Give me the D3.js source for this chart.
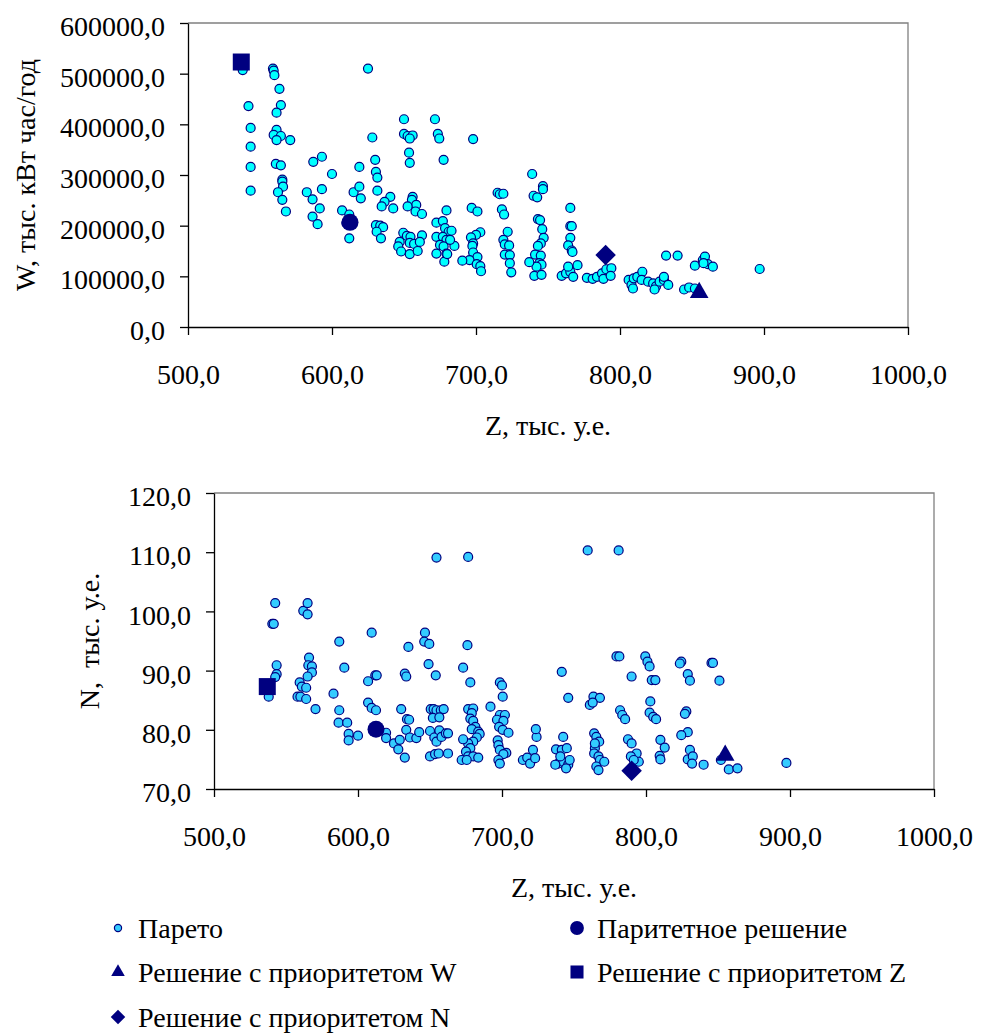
<!DOCTYPE html>
<html>
<head>
<meta charset="utf-8">
<script src="https://cdn.jsdelivr.net/npm/d3@7"></script>
<style>
  body { margin: 0; background: #fff; }
  svg { display: block; }
  text { font-family: "Liberation Serif", "Times New Roman", serif; fill: #000; }
</style>
</head>
<body>
<script>
// Z - затраты, W - потери энергии, N - третий критерий
var zTicks = [500, 600, 700, 800, 900, 1000];
var wTicks = [0, 100000, 200000, 300000, 400000, 500000, 600000];
var nTicks = [70, 80, 90, 100, 110, 120];

// Парето (Z, W)
var paretoW = [
  [538, 507000], [559, 510000], [559.5, 506000], [560, 497000], [625, 510000], [563.5, 470000],
  [542, 436000], [564.5, 438000], [561.5, 423000], [543.5, 393000], [561.5, 389000], [559.5, 379000],
  [564.5, 377000], [561.5, 369000], [571, 369000], [543.5, 356000], [650, 410000], [671.5, 410000],
  [650, 381000], [652.5, 377000], [656, 378000], [654, 372000], [673.5, 381000], [674.5, 372000],
  [628, 374000], [653.5, 344000], [654, 324000], [677.5, 330000], [543.5, 316000], [561, 322000],
  [564.5, 319000], [587, 326000], [593, 336000], [630, 330000], [619, 316000], [600, 302000],
  [630.5, 306000], [631.5, 295000], [565.5, 291000], [565.5, 287000], [566, 277000], [562.5, 266000],
  [565.5, 251000], [543.5, 269000], [582.5, 266000], [586.5, 252000], [593, 272000], [591.5, 234000],
  [586.5, 218000], [590, 203000], [568, 228000], [615, 266000], [619, 277000], [620, 254000],
  [631.5, 269000], [640.5, 257000], [636.5, 247000], [634.5, 238000], [642.5, 234000], [656, 257000],
  [655.5, 251000], [658.5, 241000], [652.5, 238000], [658, 228000], [662.5, 223000], [607, 230000],
  [612, 222000], [610, 205000], [612, 175000], [630.5, 201000], [633.5, 200000], [635.5, 197000],
  [631, 188000], [634, 175000], [649.5, 186000], [652, 180000], [654.5, 178000], [662.5, 181000],
  [647, 168000], [654, 166000], [657, 164000], [661, 168000], [646, 159000], [648, 149000],
  [654, 144000], [659.5, 150000], [679.5, 230000], [672.5, 206000], [677, 209000], [678.5, 195000],
  [681, 188000], [672.5, 178000], [677, 178000], [679.5, 172000], [675, 162000], [677.5, 159000],
  [672.5, 145000], [679.5, 145000], [678, 129000], [683, 190000], [685, 160000], [680, 144000],
  [682, 172000], [698, 371000], [739, 302000], [746.5, 278000], [746.5, 272000], [740, 259000],
  [742.5, 256000], [715, 265000], [716.5, 262000], [719, 263000], [718, 232000], [719.5, 222000],
  [697, 235000], [701, 228000], [765.5, 235000], [765.5, 199000], [766.5, 199000], [765.5, 176000],
  [764, 161000], [766.5, 151000], [767, 148000], [743, 213000], [744.5, 211000], [746, 193000],
  [747, 176000], [745, 165000], [743, 160000], [741, 143000], [745, 141000], [744, 126000],
  [745.5, 123000], [742, 119000], [740.5, 101000], [745.5, 103000], [737, 128000], [722, 188000],
  [719, 172000], [720, 163000], [723, 161000], [720, 143000], [723.5, 142000], [723.5, 126000],
  [724.5, 108000], [703, 187000], [700, 182000], [696.5, 177000], [698, 165000], [697.5, 160000],
  [698, 147000], [701, 138000], [695.5, 132000], [700.5, 124000], [703, 120000], [703.5, 110000],
  [690.5, 131000], [777, 97000], [781, 95000], [784, 99000], [787.5, 106000], [788.5, 95000],
  [790.5, 114000], [794, 116000], [793.5, 101000], [806, 93000], [808, 83000], [809.5, 96000],
  [812, 99000], [815.5, 109000], [815, 93000], [819.5, 89500], [809, 76000], [759.5, 101000],
  [762.5, 106000], [765.5, 109000], [767.5, 99000], [770.5, 122000], [764, 119000], [823, 86000],
  [825, 80000], [827.5, 89500], [830.5, 93000], [830.5, 99000], [833.5, 83000], [824, 74000],
  [832, 141000], [840, 141000], [844.5, 74000], [848, 78000], [852, 76000], [852, 121000],
  [857.5, 132000], [859, 139000], [861, 124000], [864.5, 119000], [858, 126000], [897, 114500]
];

// Парето (Z, N)
var paretoN = [
  [538, 85.6], [542.5, 101.4], [540.5, 97.9], [541.5, 97.9], [543.5, 90.9], [543.5, 89.4], [542.5, 88.9],
  [562, 100.1], [565, 101.4], [565, 99.5], [566, 92.2], [565.5, 90.9], [568, 90.7], [568, 89.7],
  [565, 89.0], [559.5, 88.0], [561, 87.3], [564, 87.1], [558, 85.6], [560, 85.6], [564, 85.2],
  [570.5, 83.5], [587, 94.9], [590.5, 90.5], [583, 86.1], [587, 83.3], [586.5, 81.2], [592.5, 81.2],
  [593.5, 79.3], [593.5, 78.2], [600, 79.0], [609.5, 96.4], [607, 88.2], [612, 89.2], [613, 89.2],
  [607, 84.6], [609.5, 83.7], [612.5, 83.3], [619.5, 79.5], [619.5, 78.6], [625, 77.7], [629, 78.3],
  [628, 76.7], [632.5, 75.3], [630, 83.5], [635, 94.0], [632.5, 89.5], [633.5, 89.0], [634, 81.8],
  [635.5, 81.7], [633.5, 80.0], [636, 78.7], [640.5, 78.6], [642.5, 79.6], [646.5, 96.4], [646, 94.9],
  [649.5, 94.5], [649, 91.1], [654, 89.2], [650.5, 83.5], [652.5, 83.5], [654.5, 83.3], [657.5, 83.3],
  [659.5, 83.5], [652, 82.0], [656.5, 82.1], [650, 79.8], [653, 78.7], [656.5, 79.9], [654.5, 78.0],
  [658, 78.8], [661, 79.4], [662.5, 79.4], [650, 75.5], [653.5, 75.9], [656, 76.0], [662.5, 76.0],
  [654.5, 109.1], [676.5, 109.2], [759.5, 110.3], [781, 110.3], [676, 94.3], [673, 90.5], [678, 88.0],
  [698.5, 88.0], [700, 87.5], [700.5, 85.6], [692, 83.9], [676.5, 83.5], [680, 83.6], [679, 82.8],
  [678, 81.9], [680, 81.5], [681.5, 80.5], [679, 80.1], [683.5, 79.7], [684.5, 79.3], [682.5, 78.7],
  [680, 78.0], [676.5, 77.7], [673, 78.4], [678, 76.9], [675, 76.3], [676.5, 75.5], [680, 75.5],
  [683.5, 75.3], [672, 74.9], [675.5, 74.9], [698.5, 82.5], [702, 82.5], [696.5, 81.7], [701, 81.5],
  [698, 80.5], [700.5, 80.0], [704.5, 79.5], [697, 78.2], [697.5, 77.4], [698.5, 76.6], [703, 76.1],
  [701, 75.9], [697.5, 74.9], [698.5, 74.3], [714.5, 74.9], [717.5, 75.3], [719.5, 74.3], [721.5, 76.6],
  [723, 75.2], [724, 78.8], [723.5, 80.1], [741.5, 89.8], [746, 85.4], [742.5, 78.8], [737.5, 76.7],
  [741.5, 76.6], [745, 76.9], [739, 74.3], [742.5, 74.6], [746, 74.1], [744.5, 73.5], [747, 74.9],
  [740.5, 75.5], [737, 74.1], [761, 84.2], [763.5, 85.6], [768, 85.4], [763, 84.6], [764, 79.4],
  [765.5, 78.8], [767.5, 78.0], [764.5, 76.9], [764, 76.0], [767, 75.5], [768, 74.9], [771, 74.6],
  [765.5, 73.8], [767, 73.2], [764.5, 77.7], [779.5, 92.4], [781.5, 92.4], [790, 89.0], [782, 83.3],
  [783.5, 82.5], [785.5, 81.8], [787.5, 78.4], [790, 77.7], [793.5, 76.0], [789.5, 75.5], [795, 74.6],
  [791.5, 74.9], [799.5, 92.4], [801, 91.5], [802.5, 90.7], [804, 88.4], [806.5, 88.4], [803, 84.8],
  [802.5, 82.9], [805, 82.2], [807, 81.8], [810, 78.3], [813, 77.0], [809.5, 75.6], [810, 75.0],
  [824.5, 91.5], [823.5, 91.2], [829, 89.4], [830.5, 88.3], [828, 83.1], [827, 82.7], [829, 79.6],
  [824.5, 79.1], [830.5, 76.6], [829, 75.0], [832.5, 75.5], [832, 74.3], [840, 74.1], [845.5, 91.3],
  [846.5, 91.3], [851, 88.3], [852, 74.9], [857.5, 73.3], [863.5, 73.5], [897.5, 74.4]
];

// особые решения: [Z, W, N]
var paritet = [612.5, 206500, 80.1];
var prioW = [855, 68000, 75.7];
var prioZ = [537, 523000, 87.3];
var prioN = [790, 142000, 73.1];

var NAVY = "#000080";
var fmt = function(d) { return d.toFixed(1).replace(".", ","); };

var svg = d3.select("body").append("svg")
  .attr("width", 984)
  .attr("height", 1035);

function drawPanel(opt) {
  var x = d3.scaleLinear().domain([500, 1000]).range([opt.left, opt.right]);
  var y = d3.scaleLinear().domain(opt.yDomain).range([opt.bottom, opt.top]);

  var g = svg.append("g");

  // рамка области построения (серая сверху и справа)
  g.append("path")
    .attr("d", "M" + opt.left + "," + opt.top + "H" + opt.right + "V" + opt.bottom)
    .attr("fill", "none")
    .attr("stroke", "#808080")
    .attr("stroke-width", 1.3);

  var xAxis = d3.axisBottom(x).tickValues(zTicks).tickSize(8).tickSizeOuter(0)
    .tickPadding(29).tickFormat(fmt);
  var yAxis = d3.axisLeft(y).tickValues(opt.yTicks).tickSize(8).tickSizeOuter(0)
    .tickPadding(15).tickFormat(fmt);

  var gx = g.append("g")
    .attr("transform", "translate(0," + opt.bottom + ")")
    .call(xAxis);
  var gy = g.append("g")
    .attr("transform", "translate(" + opt.left + ",0)")
    .call(yAxis);

  [gx, gy].forEach(function(a) {
    a.attr("font-family", null);
    a.select(".domain").attr("stroke", "#000").attr("stroke-width", 1.3);
    a.selectAll(".tick line").attr("stroke", "#000").attr("stroke-width", 1.3);
    a.selectAll(".tick text")
      .style("font-family", '"Liberation Serif", serif')
      .style("font-size", "28px")
      .attr("fill", "#000");
  });
  gy.selectAll(".tick text").attr("dy", "0.45em");
  gx.selectAll(".tick text").attr("dy", "0.71em");

  // подписи осей
  g.append("text")
    .attr("x", (opt.left + opt.right) / 2)
    .attr("y", opt.bottom + 108)
    .attr("text-anchor", "middle")
    .style("font-size", "28px")
    .text("Z, тыс. у.е.");

  g.append("text")
    .attr("transform", "translate(" + opt.yTitleX + "," + ((opt.top + opt.bottom) / 2) + ") rotate(-90)")
    .attr("text-anchor", "middle")
    .style("font-size", "28px")
    .style("white-space", "pre")
    .text(opt.yTitle);

  // Парето
  g.selectAll(".dot")
    .data(opt.data)
    .enter()
    .append("circle")
    .attr("class", "dot")
    .attr("r", 4.5)
    .attr("fill", opt.dotFill)
    .attr("stroke", NAVY)
    .attr("stroke-width", 1.2)
    .attr("cx", function(d) { return x(d[0]); })
    .attr("cy", function(d) { return y(d[1]); });

  // особые решения
  var k = opt.k;
  var specials = [
    {p: paritet, type: d3.symbolCircle, size: 227, rot: 0},
    {p: prioW, type: d3.symbolTriangle, size: 150, rot: 0},
    {p: prioZ, type: d3.symbolSquare, size: 289, rot: 0},
    {p: prioN, type: d3.symbolSquare, size: 210, rot: 45}
  ];
  specials.forEach(function(s) {
    g.append("path")
      .attr("d", d3.symbol().type(s.type).size(s.size)())
      .attr("fill", NAVY)
      .attr("transform", "translate(" + x(s.p[0]) + "," + y(s.p[k]) + ") rotate(" + s.rot + ")");
  });
}

drawPanel({
  left: 188, right: 908, top: 23, bottom: 327,
  yDomain: [0, 600000], yTicks: wTicks,
  data: paretoW, k: 1, dotFill: "#00FFFF",
  yTitle: "W, тыс. кВт час/год", yTitleX: 35
});

drawPanel({
  left: 214, right: 934, top: 493, bottom: 789,
  yDomain: [70, 120], yTicks: nTicks,
  data: paretoN, k: 2, dotFill: "#33CCFF",
  yTitle: "N,  тыс. у.е.", yTitleX: 99
});

// легенда
var legend = [
  {name: "Парето", col: 0, row: 0},
  {name: "Паритетное решение", col: 1, row: 0, type: d3.symbolCircle, size: 150},
  {name: "Решение с приоритетом W", col: 0, row: 1, type: d3.symbolTriangle, size: 80},
  {name: "Решение с приоритетом Z", col: 1, row: 1, type: d3.symbolSquare, size: 170},
  {name: "Решение с приоритетом N", col: 0, row: 2, type: d3.symbolSquare, size: 105, rot: 45}
];
var colX = [118, 577];
var rowY = [938, 982, 1027];

var lg = svg.append("g");
legend.forEach(function(l) {
  var mx = colX[l.col], my = rowY[l.row] - 10;
  if (l.row === 0 && l.col === 0) {
    lg.append("circle")
      .attr("cx", mx).attr("cy", my).attr("r", 3.6)
      .attr("fill", "#33CCFF").attr("stroke", NAVY).attr("stroke-width", 1.2);
  } else {
    lg.append("path")
      .attr("d", d3.symbol().type(l.type).size(l.size)())
      .attr("fill", NAVY)
      .attr("transform", "translate(" + mx + "," + my + ") rotate(" + (l.rot || 0) + ")");
  }
  lg.append("text")
    .attr("x", mx + 20)
    .attr("y", rowY[l.row])
    .style("font-size", "28px")
    .text(l.name);
});
</script>
</body>
</html>
